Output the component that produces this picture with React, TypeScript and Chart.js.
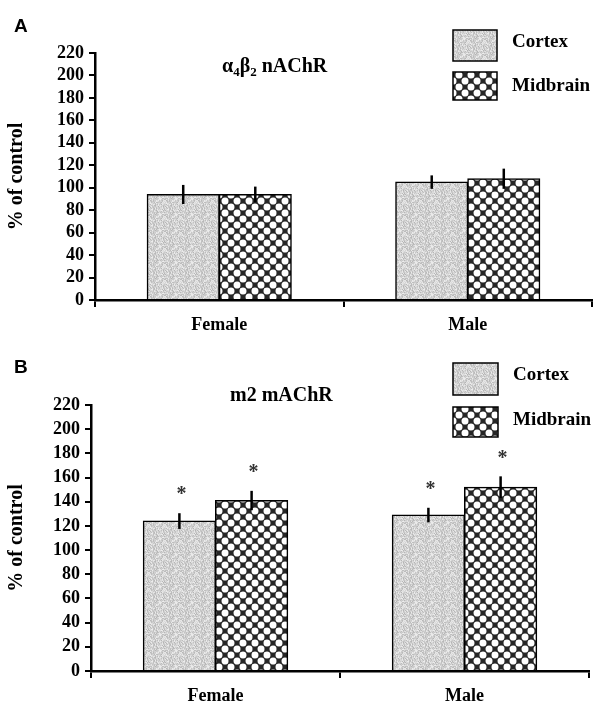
import React, { useEffect, useRef } from "react";
import { Chart, registerables } from "chart.js";

Chart.register(...registerables);

// ---------- data ----------
const categories = ["Female", "Male"];
const seriesNames = ["Cortex", "Midbrain"];
const yMin = 0;
const yMax = 220;
const yStep = 20;
const yAxisTitle = "% of control";

const panelACortex = [94, 105];
const panelACortexErr = [8.5, 6];
const panelAMidbrain = [94, 108];
const panelAMidbrainErr = [7, 9];

const panelBCortex = [124, 129];
const panelBCortexErr = [6.5, 6];
const panelBMidbrain = [141, 152];
const panelBMidbrainErr = [8, 9];
const panelBCortexSig = [true, true];
const panelBMidbrainSig = [true, true];
const panelASig = [[false, false], [false, false]];

const SERIF = "'Liberation Serif', 'Times New Roman', serif";
const SANS = "'Liberation Sans', Arial, sans-serif";

// ---------- patterns ----------
function makeCortexPattern(): CanvasPattern | string {
  const c = document.createElement("canvas");
  c.width = 16;
  c.height = 16;
  const g = c.getContext("2d");
  if (!g) return "#d0d0d0";
  const img = g.createImageData(16, 16);
  let s = 12345;
  for (let i = 0; i < 16 * 16; i++) {
    s = (s * 1103515245 + 12345) & 0x7fffffff;
    const v = 180 + ((s >> 8) % 58);
    img.data[i * 4] = v;
    img.data[i * 4 + 1] = v;
    img.data[i * 4 + 2] = v;
    img.data[i * 4 + 3] = 255;
  }
  g.putImageData(img, 0, 0);
  return g.createPattern(c, "repeat") || "#d0d0d0";
}

function makeMidbrainPattern(): CanvasPattern | string {
  const c = document.createElement("canvas");
  const cell = 6;
  c.width = cell * 2;
  c.height = cell * 2;
  const g = c.getContext("2d");
  if (!g) return "#333";
  g.fillStyle = "#262626";
  g.fillRect(0, 0, c.width, c.height);
  g.fillStyle = "#ffffff";
  const r = 3.5;
  const centers = [
    [cell / 2, cell / 2],
    [cell * 1.5, cell * 1.5],
  ];
  for (const [cx, cy] of centers) {
    for (const dx of [-c.width, 0, c.width]) {
      for (const dy of [-c.height, 0, c.height]) {
        g.beginPath();
        g.arc(cx + dx, cy + dy, r, 0, Math.PI * 2);
        g.fill();
      }
    }
  }
  return g.createPattern(c, "repeat") || "#333";
}

// ---------- overlay plugin ----------
const overlayPlugin = {
  id: "overlay",
  afterDatasetsDraw(chart: any, _args: any, opts: any) {
    const ctx: CanvasRenderingContext2D = chart.ctx;
    const ys = chart.scales.y;
    ctx.save();
    chart.data.datasets.forEach((ds: any, di: number) => {
      const meta = chart.getDatasetMeta(di);
      meta.data.forEach((el: any, i: number) => {
        const v = ds.data[i];
        const e = opts.errors[di][i];
        const yTop = ys.getPixelForValue(v + e);
        const yBot = ys.getPixelForValue(v - e);
        ctx.strokeStyle = "#000";
        ctx.lineWidth = 2.5;
        ctx.beginPath();
        ctx.moveTo(el.x, yBot);
        ctx.lineTo(el.x, yTop);
        ctx.stroke();
        if (opts.sig[di][i]) {
          ctx.fillStyle = "#333";
          ctx.font = `bold 20px ${SERIF}`;
          ctx.textAlign = "center";
          ctx.textBaseline = "middle";
          ctx.fillText("*", el.x + 2, yTop - 18);
        }
      });
    });
    ctx.restore();
  },
  afterDraw(chart: any, _args: any, opts: any) {
    const ctx: CanvasRenderingContext2D = chart.ctx;
    ctx.save();
    // panel letter
    ctx.fillStyle = "#000";
    ctx.font = `bold 19px ${SANS}`;
    ctx.textAlign = "left";
    ctx.textBaseline = "middle";
    ctx.fillText(opts.letter, opts.letterX, opts.letterY);
    // title with subscripts
    let x = opts.titleX;
    ctx.textBaseline = "alphabetic";
    for (const p of opts.titleParts) {
      ctx.font = p.sub ? `bold 13px ${SERIF}` : `bold 20px ${SERIF}`;
      ctx.fillText(p.t, x, opts.titleY + (p.sub ? 4 : 0));
      x += ctx.measureText(p.t).width;
    }
    // legend
    opts.legend.forEach((it: any, i: number) => {
      ctx.fillStyle = chart.data.datasets[i].backgroundColor;
      ctx.fillRect(it.x, it.y, it.w, it.h);
      ctx.strokeStyle = "#000";
      ctx.lineWidth = 1.5;
      ctx.strokeRect(it.x, it.y, it.w, it.h);
      ctx.fillStyle = "#000";
      ctx.font = `bold 19px ${SERIF}`;
      ctx.textBaseline = "alphabetic";
      ctx.fillText(seriesNames[i], it.tx, it.ty);
    });
    ctx.restore();
  },
};

type PanelProps = {
  top: number;
  height: number;
  left: number;
  right: number;
  chartTop: number;
  chartBottom: number;
  cortex: number[];
  midbrain: number[];
  errors: number[][];
  sig: boolean[][];
  letter: string;
  letterY: number;
  titleParts: { t: string; sub?: boolean }[];
  titleX: number;
  titleY: number;
  legend: { x: number; y: number; w: number; h: number; tx: number; ty: number }[];
};

function Panel(p: PanelProps) {
  const ref = useRef<HTMLCanvasElement | null>(null);
  useEffect(() => {
    if (!ref.current) return;
    const cortexPat = makeCortexPattern();
    const midPat = makeMidbrainPattern();
    const W = 595;
    const chart = new Chart(ref.current, {
      type: "bar",
      data: {
        labels: categories,
        datasets: [
          {
            label: seriesNames[0],
            data: p.cortex,
            backgroundColor: cortexPat as any,
            borderColor: "#000",
            borderWidth: 1.5,
            categoryPercentage: 0.58,
            barPercentage: 1.0,
            inflateAmount: 0.5,
          },
          {
            label: seriesNames[1],
            data: p.midbrain,
            backgroundColor: midPat as any,
            borderColor: "#000",
            borderWidth: 1.5,
            categoryPercentage: 0.58,
            barPercentage: 1.0,
            inflateAmount: 0.5,
          },
        ],
      },
      options: {
        responsive: false,
        animation: false,
        devicePixelRatio: 1,
        layout: { padding: { left: 0, right: W - p.right, top: p.chartTop, bottom: 0 } },
        plugins: {
          legend: { display: false },
          tooltip: { enabled: false },
          title: { display: false },
          overlay: {
            errors: p.errors,
            sig: p.sig,
            letter: p.letter,
            letterX: 14,
            letterY: p.letterY,
            titleParts: p.titleParts,
            titleX: p.titleX,
            titleY: p.titleY,
            legend: p.legend,
          },
        } as any,
        scales: {
          x: {
            offset: true,
            grid: {
              offset: true,
              display: true,
              drawOnChartArea: false,
              drawTicks: true,
              tickLength: 7,
              lineWidth: 2,
              color: "#000",
            },
            border: { display: true, color: "#000", width: 2.5 },
            ticks: { color: "#000", font: { family: SERIF, size: 18, weight: "bold" }, padding: 8 },
            afterFit: (s: any) => {
              s.height = p.height - p.chartBottom;
            },
          },
          y: {
            min: yMin,
            max: yMax,
            ticks: {
              stepSize: yStep,
              autoSkip: false,
              color: "#000",
              font: { family: SERIF, size: 18, weight: "bold" },
              padding: 5,
            },
            grid: {
              drawOnChartArea: false,
              drawTicks: true,
              tickLength: 6,
              lineWidth: 2,
              color: "#000",
            },
            border: { display: true, color: "#000", width: 2.5 },
            title: {
              display: true,
              text: yAxisTitle,
              color: "#000",
              font: { family: SERIF, size: 20, weight: "bold" },
              padding: { top: 5, bottom: 0 },
            },
            afterFit: (s: any) => {
              s.width = p.left;
            },
          },
        },
      } as any,
      plugins: [overlayPlugin as any],
    });
    return () => chart.destroy();
  }, []);
  return (
    <canvas
      ref={ref}
      width={595}
      height={p.height}
      style={{ position: "absolute", left: 0, top: p.top, width: 595, height: p.height, display: "block" }}
    />
  );
}

export default function App() {
  return (
    <div style={{ position: "fixed", left: 0, top: 0, width: 595, height: 706, background: "#fff", overflow: "hidden" }}>
      <Panel
        top={0}
        height={340}
        left={95}
        right={592}
        chartTop={53}
        chartBottom={300}
        cortex={panelACortex}
        midbrain={panelAMidbrain}
        errors={[panelACortexErr, panelAMidbrainErr]}
        sig={panelASig}
        letter="A"
        letterY={27}
        titleParts={[{ t: "α" }, { t: "4", sub: true }, { t: "β" }, { t: "2", sub: true }, { t: " nAChR" }]}
        titleX={222}
        titleY={72}
        legend={[
          { x: 453, y: 30, w: 44, h: 31, tx: 512, ty: 47 },
          { x: 453, y: 72, w: 44, h: 28, tx: 512, ty: 91 },
        ]}
      />
      <Panel
        top={340}
        height={366}
        left={91}
        right={589}
        chartTop={65}
        chartBottom={331}
        cortex={panelBCortex}
        midbrain={panelBMidbrain}
        errors={[panelBCortexErr, panelBMidbrainErr]}
        sig={[panelBCortexSig, panelBMidbrainSig]}
        letter="B"
        letterY={28}
        titleParts={[{ t: "m2 mAChR" }]}
        titleX={230}
        titleY={61}
        legend={[
          { x: 453, y: 23, w: 45, h: 32, tx: 513, ty: 40 },
          { x: 453, y: 67, w: 45, h: 30, tx: 513, ty: 85 },
        ]}
      />
    </div>
  );
}
